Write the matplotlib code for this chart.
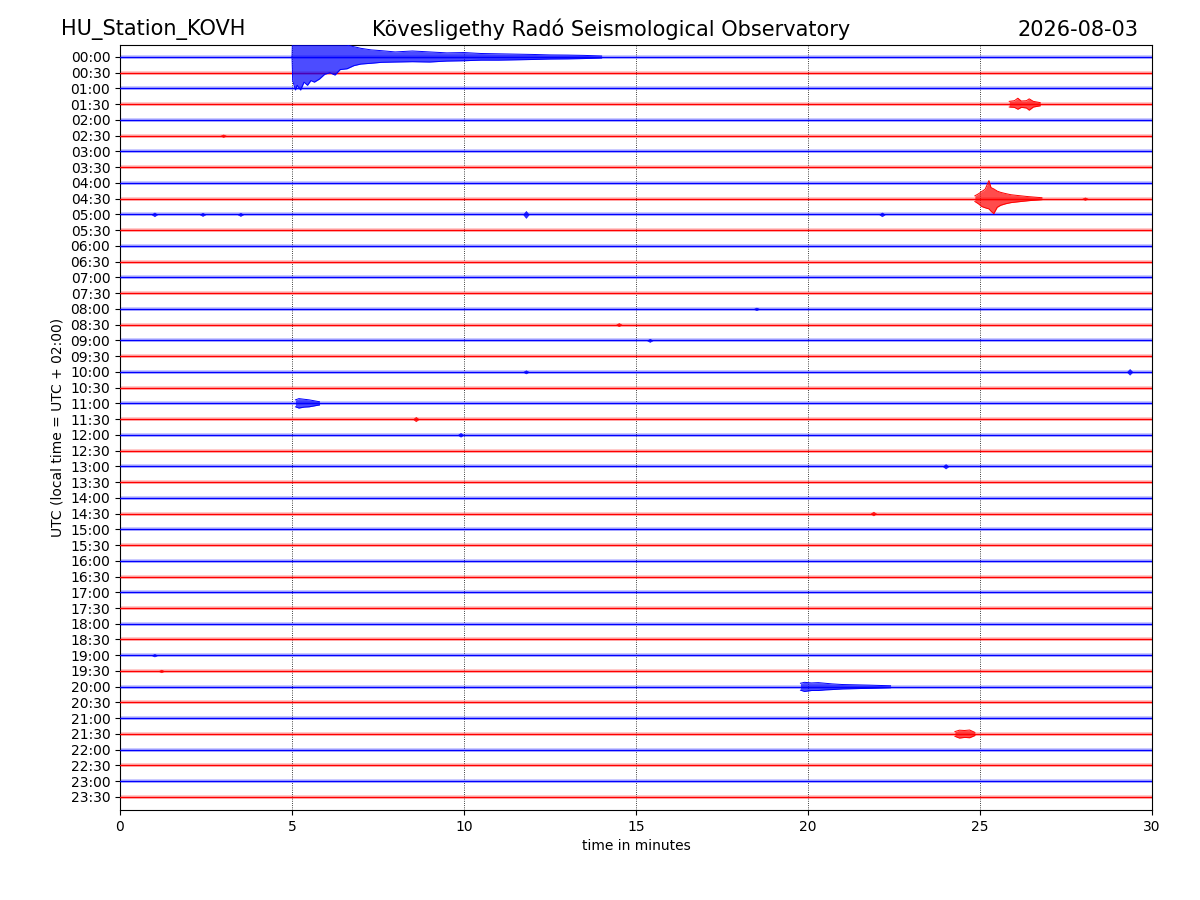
"""
helicorder.py

Recreates a 24-hour helicorder plot for station KOVH: 48 half-hour
traces stacked top to bottom, with the larger events drawn as
envelopes read off the original record.
"""

import matplotlib
matplotlib.use("Agg")
import matplotlib.pyplot as plt

# Row labels (start of each 30 minute trace)
row_labels = ["%02d:%02d" % (h, m) for h in range(24) for m in (0, 30)]
trace_colors = ["blue", "red"]

# Events: row index, times (minutes), upper / lower envelope in row spacings
event_rows = [0, 9, 3, 22, 40, 43]
event_times = [
    [5.00, 5.02, 5.10, 5.15, 5.25, 5.35, 5.45, 5.55, 5.65, 5.80, 5.95, 6.10, 6.25,
     6.40, 6.60, 6.80, 7.00, 7.30, 7.60, 8.00, 8.50, 9.00, 9.50, 10.0, 10.5, 11.0,
     11.5, 12.0, 12.5, 13.0, 13.5, 14.0],
    [24.85, 24.95, 25.05, 25.15, 25.26, 25.32, 25.40, 25.50, 25.60, 25.75, 25.90,
     26.10, 26.40, 26.80],
    [25.85, 26.00, 26.10, 26.20, 26.35, 26.43, 26.55, 26.75],
    [5.10, 5.20, 5.35, 5.50, 5.65, 5.80],
    [19.78, 19.90, 20.10, 20.30, 20.50, 20.70, 21.00, 21.40, 21.80, 22.40],
    [24.27, 24.40, 24.55, 24.70, 24.85],
]
event_upper = [
    [0.0, 1.6, 1.6, 1.6, 1.6, 1.6, 1.6, 1.6, 1.5, 1.4, 1.2, 1.1, 1.0,
     0.9, 0.75, 0.65, 0.55, 0.45, 0.40, 0.32, 0.38, 0.32, 0.26, 0.28, 0.22, 0.20,
     0.18, 0.16, 0.13, 0.12, 0.10, 0.06],
    [0.18, 0.30, 0.45, 0.60, 1.15, 0.70, 0.62, 0.48, 0.40, 0.32, 0.25, 0.20, 0.13, 0.06],
    [0.18, 0.22, 0.38, 0.20, 0.22, 0.34, 0.18, 0.10],
    [0.22, 0.30, 0.26, 0.22, 0.16, 0.10],
    [0.22, 0.28, 0.24, 0.26, 0.22, 0.18, 0.14, 0.12, 0.10, 0.06],
    [0.15, 0.24, 0.22, 0.25, 0.10],
]
event_lower = [
    [0.0, 1.5, 2.1, 1.8, 2.1, 1.6, 1.8, 1.5, 1.6, 1.4, 1.1, 1.0, 1.15,
     0.8, 0.75, 0.55, 0.45, 0.40, 0.34, 0.32, 0.30, 0.32, 0.26, 0.24, 0.20, 0.20,
     0.18, 0.16, 0.13, 0.12, 0.10, 0.06],
    [0.18, 0.32, 0.50, 0.58, 0.65, 0.80, 0.95, 0.55, 0.42, 0.32, 0.25, 0.20, 0.13, 0.06],
    [0.18, 0.20, 0.32, 0.20, 0.24, 0.38, 0.18, 0.10],
    [0.22, 0.30, 0.24, 0.22, 0.16, 0.10],
    [0.22, 0.30, 0.24, 0.24, 0.20, 0.18, 0.14, 0.12, 0.10, 0.06],
    [0.15, 0.26, 0.22, 0.24, 0.10],
]

# Short blips: row index, time (minutes), half amplitude in row spacings
blip_rows = [10, 10, 10, 10, 10, 5, 20, 20, 23, 24, 26, 29, 17, 18, 38, 39, 9, 16]
blip_times = [1.0, 2.4, 3.5, 11.8, 22.15, 3.0, 29.35, 11.8, 8.6, 9.9, 24.0, 21.9,
              14.5, 15.4, 1.0, 1.2, 28.05, 18.5]
blip_amps = [0.12, 0.10, 0.10, 0.22, 0.12, 0.08, 0.18, 0.10, 0.14, 0.12, 0.14, 0.12,
             0.10, 0.10, 0.08, 0.08, 0.08, 0.08]


def plot():
    fig, ax = plt.subplots(figsize=(12, 9), dpi=100)
    fig.subplots_adjust(left=0.1, right=0.96, top=0.95, bottom=0.1)

    # Quiet baseline for every trace
    for i in range(len(row_labels)):
        c = trace_colors[i % 2]
        ax.plot([0, 30], [i, i], color=c, lw=2.6, alpha=0.25, zorder=2)
        ax.plot([0, 30], [i, i], color=c, lw=1.0, zorder=3)

    # Events as filled envelopes, edges drawn a little stronger
    for row, t, up, lo in zip(event_rows, event_times, event_upper, event_lower):
        c = trace_colors[row % 2]
        top = [row - u for u in up]
        bot = [row + l for l in lo]
        ax.fill_between(t, top, bot, color=c, lw=0, alpha=0.7, zorder=4)
        ax.plot(t, top, color=c, lw=0.7, zorder=4)
        ax.plot(t, bot, color=c, lw=0.7, zorder=4)

    # Small blips
    for row, t, a in zip(blip_rows, blip_times, blip_amps):
        c = trace_colors[row % 2]
        ax.fill_between([t - 0.08, t, t + 0.08], [row, row - a, row],
                        [row, row + a, row], color=c, lw=0.5, alpha=0.8, zorder=4)

    ax.set_xlim(0, 30)
    ax.set_ylim(len(row_labels) - 0.17, -0.76)
    ax.set_xticks([0, 5, 10, 15, 20, 25, 30])
    ax.set_yticks(range(len(row_labels)))
    ax.set_yticklabels(row_labels)
    ax.xaxis.grid(True, color="black", linestyle=":", lw=0.6)
    ax.set_axisbelow(True)
    ax.set_xlabel("time in minutes")
    ax.set_ylabel("UTC (local time = UTC + 02:00)")

    fig.text(0.128, 0.967, "HU_Station_KOVH", fontsize=15, ha="center", va="center")
    fig.text(0.509, 0.967, "Kövesligethy Radó Seismological Observatory",
             fontsize=15, ha="center", va="center")
    fig.text(0.898, 0.967, "2026-08-03", fontsize=15, ha="center", va="center")

    fig.savefig("out.png", dpi=100)


plot()
